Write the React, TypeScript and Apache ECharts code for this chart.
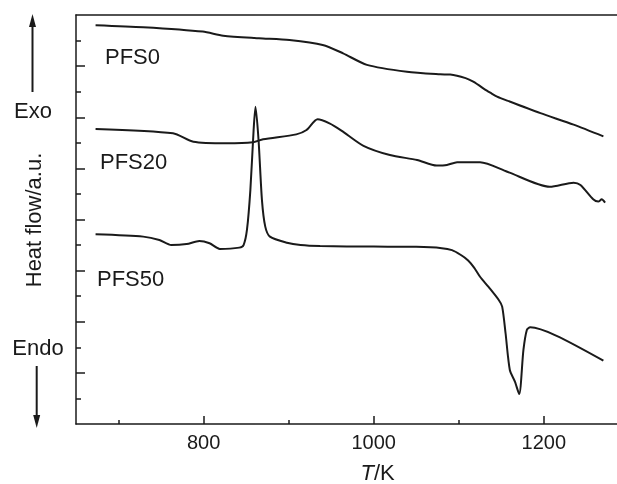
import React, { useEffect, useRef } from "react";
import * as echarts from "echarts";

// Temperatures (K) and heat flow (a.u.)
const tempPFS0 = [673, 729, 799, 823, 865, 901, 940, 964, 992, 1039, 1078, 1090, 1108, 1117, 1133, 1137, 1145, 1157, 1196, 1235, 1270];
const heatPFS0 = [15.6, 15.52, 15.35, 15.19, 15.09, 15.02, 14.83, 14.5, 14.05, 13.78, 13.68, 13.67, 13.53, 13.39, 13.04, 12.96, 12.81, 12.65, 12.16, 11.71, 11.25];

const tempPFS20 = [673, 764, 788, 827, 858, 870, 909, 921, 934, 948, 962, 988, 1019, 1051, 1074, 1086, 1098, 1125, 1157, 1207, 1235, 1243, 1258, 1264, 1268, 1272];
const heatPFS20 = [11.54, 11.37, 11.04, 10.98, 11.02, 11.14, 11.33, 11.5, 11.92, 11.76, 11.48, 10.88, 10.52, 10.33, 10.11, 10.13, 10.24, 10.24, 9.87, 9.28, 9.44, 9.35, 8.79, 8.7, 8.79, 8.66];

const tempPFS50 = [673, 729, 748, 762, 780, 795, 807, 819, 842, 847, 851, 855, 858.8, 861, 864.6, 868.6, 872.5, 878, 898, 914, 937, 1000, 1050, 1080, 1092, 1102, 1111, 1118, 1125, 1135, 1147, 1151, 1155, 1160, 1166, 1171, 1176, 1180, 1184, 1215, 1270];
const heatPFS50 = [7.42, 7.33, 7.2, 7.0, 7.04, 7.16, 7.07, 6.85, 6.9, 7.0, 7.6, 9.16, 11.5, 12.41, 11.11, 8.76, 7.72, 7.33, 7.09, 7.0, 6.96, 6.94, 6.93, 6.88, 6.8, 6.62, 6.4, 6.12, 5.76, 5.36, 4.85, 4.59, 3.55, 2.11, 1.66, 1.17, 2.9, 3.68, 3.78, 3.45, 2.48];

const xMajorTicks = [800, 1000, 1200];
const xMinorTicks = [700, 900, 1100];
const yMajorTicks = [2, 4, 6, 8, 10, 12, 14];
const yMinorTicks = [1, 3, 5, 7, 9, 11, 13, 15];

const seriesNames = ["PFS0", "PFS20", "PFS50"];

const INK = "#1a1a1a";
const FONT = "Liberation Sans, Arial, Helvetica, sans-serif";

function pairs(xs: number[], ys: number[]) {
  return xs.map((x, i) => [x, ys[i]]);
}

export default function App() {
  const ref = useRef<HTMLDivElement>(null);
  useEffect(() => {
    if (!ref.current) return;
    const chart = echarts.init(ref.current, null, { renderer: "svg" });
    const axisLine = { show: true, onZero: false, lineStyle: { color: INK, width: 1.5 } };
    const xBase = { type: "value", min: 650, max: 1286, splitLine: { show: false }, gridIndex: 0 };
    const yBase = { type: "value", min: 0, max: 16, splitLine: { show: false }, gridIndex: 0 };
    const lineSeries = (name: string, xs: number[], ys: number[]) => ({
      name,
      type: "line",
      xAxisIndex: 0,
      yAxisIndex: 0,
      data: pairs(xs, ys),
      showSymbol: false,
      smooth: 0.25,
      lineStyle: { color: INK, width: 2 },
    });
    const label = (text: string, x: number, y: number, align = "left", extraStyle: any = {}) => ({
      type: "text",
      x,
      y,
      style: {
        text,
        fill: INK,
        font: `22px ${FONT}`,
        align,
        verticalAlign: "middle",
        ...extraStyle,
      },
    });
    chart.setOption({
      animation: false,
      grid: { left: 76, top: 15, right: 0, bottom: 60 },
      xAxis: [
        {
          ...xBase,
          position: "bottom",
          axisLine,
          axisTick: { show: true, inside: true, length: 8, customValues: xMajorTicks, lineStyle: { color: INK, width: 1.5 } },
          axisLabel: {
            show: true,
            customValues: xMajorTicks,
            fontSize: 20,
            color: INK,
            fontFamily: FONT,
            margin: 8,
            formatter: (v: number) => String(v),
          },
        },
        {
          ...xBase,
          position: "bottom",
          axisLine: { show: false },
          axisTick: { show: true, inside: true, length: 4, customValues: xMinorTicks, lineStyle: { color: INK, width: 1.5 } },
          axisLabel: { show: false },
        },
        {
          ...xBase,
          position: "top",
          axisLine,
          axisTick: { show: false },
          axisLabel: { show: false },
        },
      ],
      yAxis: [
        {
          ...yBase,
          position: "left",
          axisLine,
          axisTick: { show: true, inside: true, length: 9, customValues: yMajorTicks, lineStyle: { color: INK, width: 1.5 } },
          axisLabel: { show: false },
        },
        {
          ...yBase,
          position: "left",
          axisLine: { show: false },
          axisTick: { show: true, inside: true, length: 5, customValues: yMinorTicks, lineStyle: { color: INK, width: 1.5 } },
          axisLabel: { show: false },
        },
      ],
      series: [
        lineSeries(seriesNames[0], tempPFS0, heatPFS0),
        lineSeries(seriesNames[1], tempPFS20, heatPFS20),
        lineSeries(seriesNames[2], tempPFS50, heatPFS50),
      ],
      graphic: [
        label(seriesNames[0], 105, 56),
        label(seriesNames[1], 100, 161),
        label(seriesNames[2], 97, 278),
        label("Exo", 33, 110, "center"),
        label("Endo", 38, 347, "center"),
        {
          type: "text",
          x: 33,
          y: 220,
          rotation: Math.PI / 2,
          style: { text: "Heat flow/a.u.", fill: INK, font: `22px ${FONT}`, align: "center", verticalAlign: "middle" },
        },
        label("T", 374, 472, "right", { font: `italic 22px ${FONT}` }),
        label("/K", 374, 472, "left"),
        { type: "line", shape: { x1: 32.5, y1: 92, x2: 32.5, y2: 24 }, style: { stroke: INK, lineWidth: 2 } },
        { type: "polygon", shape: { points: [[32.5, 14], [29, 27], [36, 27]] }, style: { fill: INK } },
        { type: "line", shape: { x1: 36.7, y1: 366, x2: 36.7, y2: 418 }, style: { stroke: INK, lineWidth: 2 } },
        { type: "polygon", shape: { points: [[36.7, 428], [33.2, 415], [40.2, 415]] }, style: { fill: INK } },
      ],
    });
    return () => chart.dispose();
  }, []);
  return <div ref={ref} style={{ position: "fixed", left: 0, top: 0, width: 617, height: 484 }} />;
}
